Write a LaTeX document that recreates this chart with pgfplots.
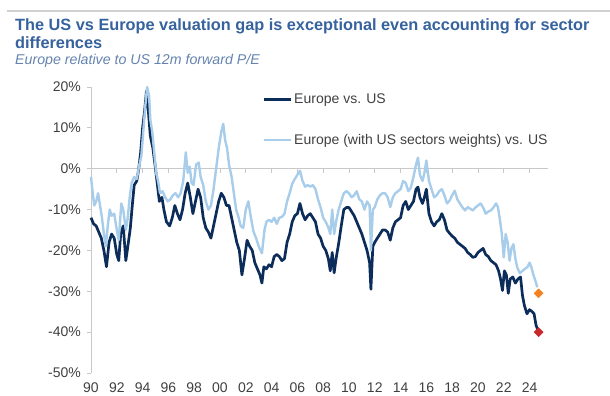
\documentclass[border=0pt]{standalone}
\usepackage{pgfplots}
\pgfplotsset{compat=1.18}
\usepackage{fontspec}
\setmainfont{Liberation Sans}
\definecolor{darkser}{HTML}{0C2D5A}
\definecolor{lightser}{HTML}{A7CDEB}
\definecolor{diamor}{HTML}{F5821F}
\definecolor{diamred}{HTML}{C8282E}
\definecolor{axisgray}{HTML}{C8C8C8}
\definecolor{labelgray}{HTML}{404040}
\definecolor{titleblue}{HTML}{36629D}
\definecolor{subblue}{HTML}{6483AE}
\definecolor{rulegray}{HTML}{D0D0D0}
\pgfplotstableread{
x y
1990.0 -12
1990.2 -13.5
1990.4 -14
1990.6 -15.5
1990.8 -17
1991.0 -20
1991.2 -24
1991.4 -18
1991.6 -16
1991.8 -17
1992.0 -21
1992.15 -22.5
1992.3 -16
1992.5 -14
1992.7 -22.5
1992.9 -18
1993.05 -14.5
1993.2 -9
1993.35 -4
1993.55 -3
1993.7 0
1993.85 4
1994.0 10
1994.15 14
1994.3 19
1994.45 14
1994.6 8
1994.8 5
1995.0 0
1995.15 -4
1995.3 -8
1995.5 -7
1995.65 -10
1995.85 -13
1996.1 -14
1996.3 -12
1996.5 -9
1996.7 -11
1996.9 -12.5
1997.1 -10
1997.3 -6
1997.5 -3.5
1997.7 -7
1997.9 -11
1998.1 -8
1998.3 -5
1998.5 -7
1998.7 -12
1998.9 -14.5
1999.1 -15.5
1999.3 -17
1999.5 -14
1999.7 -11
1999.9 -8
2000.1 -6
2000.3 -7
2000.5 -9
2000.7 -9
2000.9 -12
2001.1 -15
2001.3 -18
2001.5 -20
2001.7 -26
2001.9 -22
2002.1 -17.5
2002.3 -19
2002.5 -20
2002.7 -23
2002.9 -24.5
2003.1 -26
2003.25 -28
2003.4 -24
2003.6 -24.5
2003.8 -23.5
2004.0 -24
2004.2 -21.5
2004.4 -21
2004.6 -21.5
2004.8 -22.5
2005.0 -22
2005.2 -18
2005.4 -16
2005.6 -13
2005.8 -11.5
2006.0 -11
2006.2 -8.5
2006.4 -11
2006.6 -12.5
2006.8 -11.5
2007.0 -11
2007.2 -12
2007.4 -13
2007.6 -16
2007.8 -17
2008.0 -19
2008.2 -20
2008.4 -22
2008.55 -25
2008.7 -20.5
2008.85 -25.5
2009.0 -22
2009.2 -18.3
2009.4 -14
2009.6 -10
2009.8 -9.5
2010.0 -9.5
2010.2 -10.5
2010.4 -11.5
2010.6 -13
2010.8 -14.5
2011.0 -16
2011.2 -18
2011.4 -20
2011.6 -23
2011.7 -29.5
2011.85 -19
2012.0 -18
2012.2 -17
2012.4 -16
2012.6 -15
2012.8 -15
2013.0 -15.5
2013.2 -17.5
2013.4 -14.5
2013.6 -13
2013.8 -12.5
2014.0 -12
2014.2 -9
2014.4 -8
2014.6 -10
2014.8 -9
2015.0 -8
2015.2 -5
2015.35 -4.5
2015.5 -7
2015.7 -8.5
2015.85 -7
2016.0 -5
2016.2 -11
2016.4 -13
2016.6 -14
2016.8 -13
2017.0 -12.5
2017.2 -11
2017.4 -12.5
2017.6 -15
2017.8 -15.8
2018.0 -16.5
2018.2 -17
2018.4 -18
2018.6 -18.5
2018.8 -19
2019.0 -19.5
2019.2 -20.5
2019.4 -21
2019.6 -21.7
2019.8 -21.5
2020.0 -20.5
2020.2 -20
2020.4 -19.5
2020.6 -21
2020.8 -21.5
2021.0 -22.5
2021.2 -23
2021.4 -23.5
2021.6 -25
2021.75 -27
2021.9 -29.8
2022.05 -25
2022.2 -26
2022.35 -30.5
2022.5 -27
2022.7 -26.5
2022.9 -28
2023.1 -27
2023.3 -26.5
2023.45 -31
2023.6 -33.5
2023.8 -35.5
2024.0 -34.5
2024.2 -35
2024.35 -35.5
2024.5 -38.3
2024.65 -39.5
}\darkdata
\pgfplotstableread{
x y
1990.0 -2
1990.1 -5
1990.25 -9
1990.4 -8
1990.55 -6
1990.7 -9
1990.85 -12
1991.0 -16
1991.15 -19
1991.3 -14
1991.45 -10
1991.6 -11.5
1991.8 -11
1992.0 -15
1992.15 -17.5
1992.35 -8.5
1992.5 -10
1992.7 -15
1992.85 -12
1993.0 -7
1993.15 -3.5
1993.35 -2
1993.55 -2.5
1993.75 1
1993.9 3
1994.05 9
1994.2 15
1994.35 20
1994.5 18
1994.6 12
1994.75 9
1994.9 4
1995.05 -1
1995.2 -3
1995.35 -6
1995.55 -5.5
1995.75 -7
1995.95 -8
1996.15 -7.5
1996.35 -6.5
1996.55 -6
1996.75 -7
1996.95 -6
1997.15 -3
1997.35 4
1997.5 -1
1997.65 0.5
1997.8 -3.5
1997.95 -4
1998.15 1
1998.35 1.5
1998.5 -2
1998.7 -4
1998.9 -8
1999.1 -10
1999.3 -9
1999.5 -5
1999.7 0
1999.9 5
2000.1 9
2000.25 11
2000.4 7
2000.55 5
2000.7 1
2000.9 -2
2001.05 -5.4
2001.25 -10
2001.45 -12
2001.6 -14
2001.8 -14.5
2002.0 -10
2002.2 -8
2002.4 -12
2002.6 -15.4
2002.8 -17
2003.0 -19
2003.25 -20.7
2003.45 -15
2003.6 -13
2003.8 -12.5
2004.0 -13
2004.2 -12
2004.4 -13.5
2004.6 -12
2004.8 -11.8
2005.0 -11
2005.2 -8
2005.4 -6
2005.6 -3.7
2005.8 -2.5
2006.0 -1.5
2006.2 -0.5
2006.4 -3
2006.6 -4.4
2006.8 -4
2007.0 -4.4
2007.2 -4
2007.4 -5
2007.6 -7.5
2007.8 -9.5
2008.0 -12
2008.2 -13
2008.4 -14.4
2008.55 -16
2008.7 -10
2008.85 -16
2009.0 -13
2009.2 -10
2009.4 -8
2009.6 -6
2009.8 -5.5
2010.0 -6
2010.2 -7
2010.4 -6.5
2010.6 -5.5
2010.8 -7.5
2011.0 -8
2011.2 -10
2011.4 -8
2011.6 -9
2011.7 -20
2011.85 -10
2012.0 -9.4
2012.2 -7.5
2012.4 -6.5
2012.6 -6
2012.8 -6
2013.0 -7
2013.2 -9.4
2013.4 -7
2013.6 -6
2013.8 -5.5
2014.0 -5
2014.2 -3
2014.4 -3.5
2014.6 -5.5
2014.8 -4.6
2015.0 -2
2015.2 1
2015.35 2.7
2015.5 -1.5
2015.7 -3
2015.85 -1
2016.0 2
2016.2 -3
2016.4 -5
2016.6 -7
2016.8 -6.5
2017.0 -5.5
2017.2 -5
2017.4 -6.5
2017.6 -8.5
2017.8 -7.8
2018.0 -6.5
2018.2 -5.4
2018.4 -7.5
2018.6 -8.5
2018.8 -9.5
2019.0 -10.2
2019.2 -9.4
2019.4 -9.8
2019.6 -10.2
2019.8 -9.5
2020.0 -9
2020.2 -8.5
2020.4 -9.5
2020.6 -11
2020.8 -10.5
2021.0 -10.2
2021.2 -9.5
2021.4 -8.5
2021.55 -9.4
2021.7 -12.5
2021.85 -16
2022.0 -21.7
2022.15 -16
2022.3 -18
2022.45 -22.5
2022.6 -19.4
2022.75 -18.5
2022.9 -22
2023.05 -24.2
2023.25 -25.6
2023.45 -25
2023.65 -24.5
2023.85 -24
2024.0 -23
2024.15 -24.2
2024.3 -26
2024.45 -27.4
2024.6 -29
}\lightdata
\begin{document}
\begin{tikzpicture}
\useasboundingbox (0bp,0bp) rectangle (610bp,396bp);
\draw[rulegray, line width=1.2bp] (7bp,385bp) -- (610bp,385bp);
\node[anchor=base west, inner sep=0pt, text=titleblue, font=\fontsize{16.3bp}{19bp}\selectfont\bfseries] at (15bp,365bp) {The US vs Europe valuation gap is exceptional even accounting for sector};
\node[anchor=base west, inner sep=0pt, text=titleblue, font=\fontsize{16.3bp}{19bp}\selectfont\bfseries] at (15bp,347bp) {differences};
\node[anchor=base west, inner sep=0pt, text=subblue, font=\fontsize{14.2bp}{17bp}\selectfont\itshape] at (15bp,331bp) {Europe relative to US 12m forward P/E};
% zero line with ticks
\begin{axis}[at={(91bp,23bp)}, anchor=south west, scale only axis, width=457bp, height=286bp,
  xmin=1990, xmax=2025.43, ymin=-50, ymax=20,
  axis x line=middle, axis y line=none,
  x axis line style={-, draw=axisgray, line width=0.9bp},
  xtick={1990,1992,...,2024}, xticklabels={},
  xtick style={draw=axisgray, line width=0.8bp},
  major tick length=4bp, tick align=outside]
\end{axis}
\begin{axis}[at={(91bp,23bp)}, anchor=south west, scale only axis, width=457bp, height=286bp,
  xmin=1990, xmax=2025.43, ymin=-50, ymax=20,
  axis x line*=bottom, axis y line*=left,
  x axis line style={draw=none}, xtick style={draw=none},
  y axis line style={-, draw=axisgray, line width=0.9bp},
  ytick style={draw=axisgray, line width=0.8bp},
  major tick length=4bp, tick align=outside,
  xtick={1990,1992,...,2024},
  xticklabels={90,92,94,96,98,00,02,04,06,08,10,12,14,16,18,20,22,24},
  ytick={-50,-40,-30,-20,-10,0,10,20},
  yticklabels={-50\%,-40\%,-30\%,-20\%,-10\%,0\%,10\%,20\%},
  ticklabel style={font=\fontsize{14bp}{16bp}\selectfont, text=labelgray},
  xticklabel style={inner sep=0pt, anchor=north, yshift=-5.5bp},
  yticklabel style={inner sep=0pt, anchor=east, xshift=-6bp},
  legend style={at={(0.376,0.982)}, anchor=north west, draw=none, fill=none,
    inner sep=0pt, row sep=26bp, font=\fontsize{14bp}{16bp}\selectfont, text=labelgray,
    nodes={inner sep=1.5bp}},
  legend cell align=left,
  legend image code/.code={\draw[#1] (0bp,0bp) -- (27bp,0bp);},
  clip=false]
\addplot[darkser, line width=2.7bp, line join=round] table[x=x,y=y] {\darkdata};
\addlegendentry{Europe vs. US}
\addplot[lightser, line width=2.4bp, line join=round] table[x=x,y=y] {\lightdata};
\addlegendentry{Europe (with US sectors weights) vs. US}
\addplot[only marks, mark=square*, mark size=3.2bp, mark options={rotate=45, fill=diamred, draw=diamred}, forget plot] coordinates {(2024.7,-40)};
\addplot[only marks, mark=square*, mark size=3.2bp, mark options={rotate=45, fill=diamor, draw=diamor}, forget plot] coordinates {(2024.7,-30.5)};
\end{axis}
\end{tikzpicture}
\end{document}
